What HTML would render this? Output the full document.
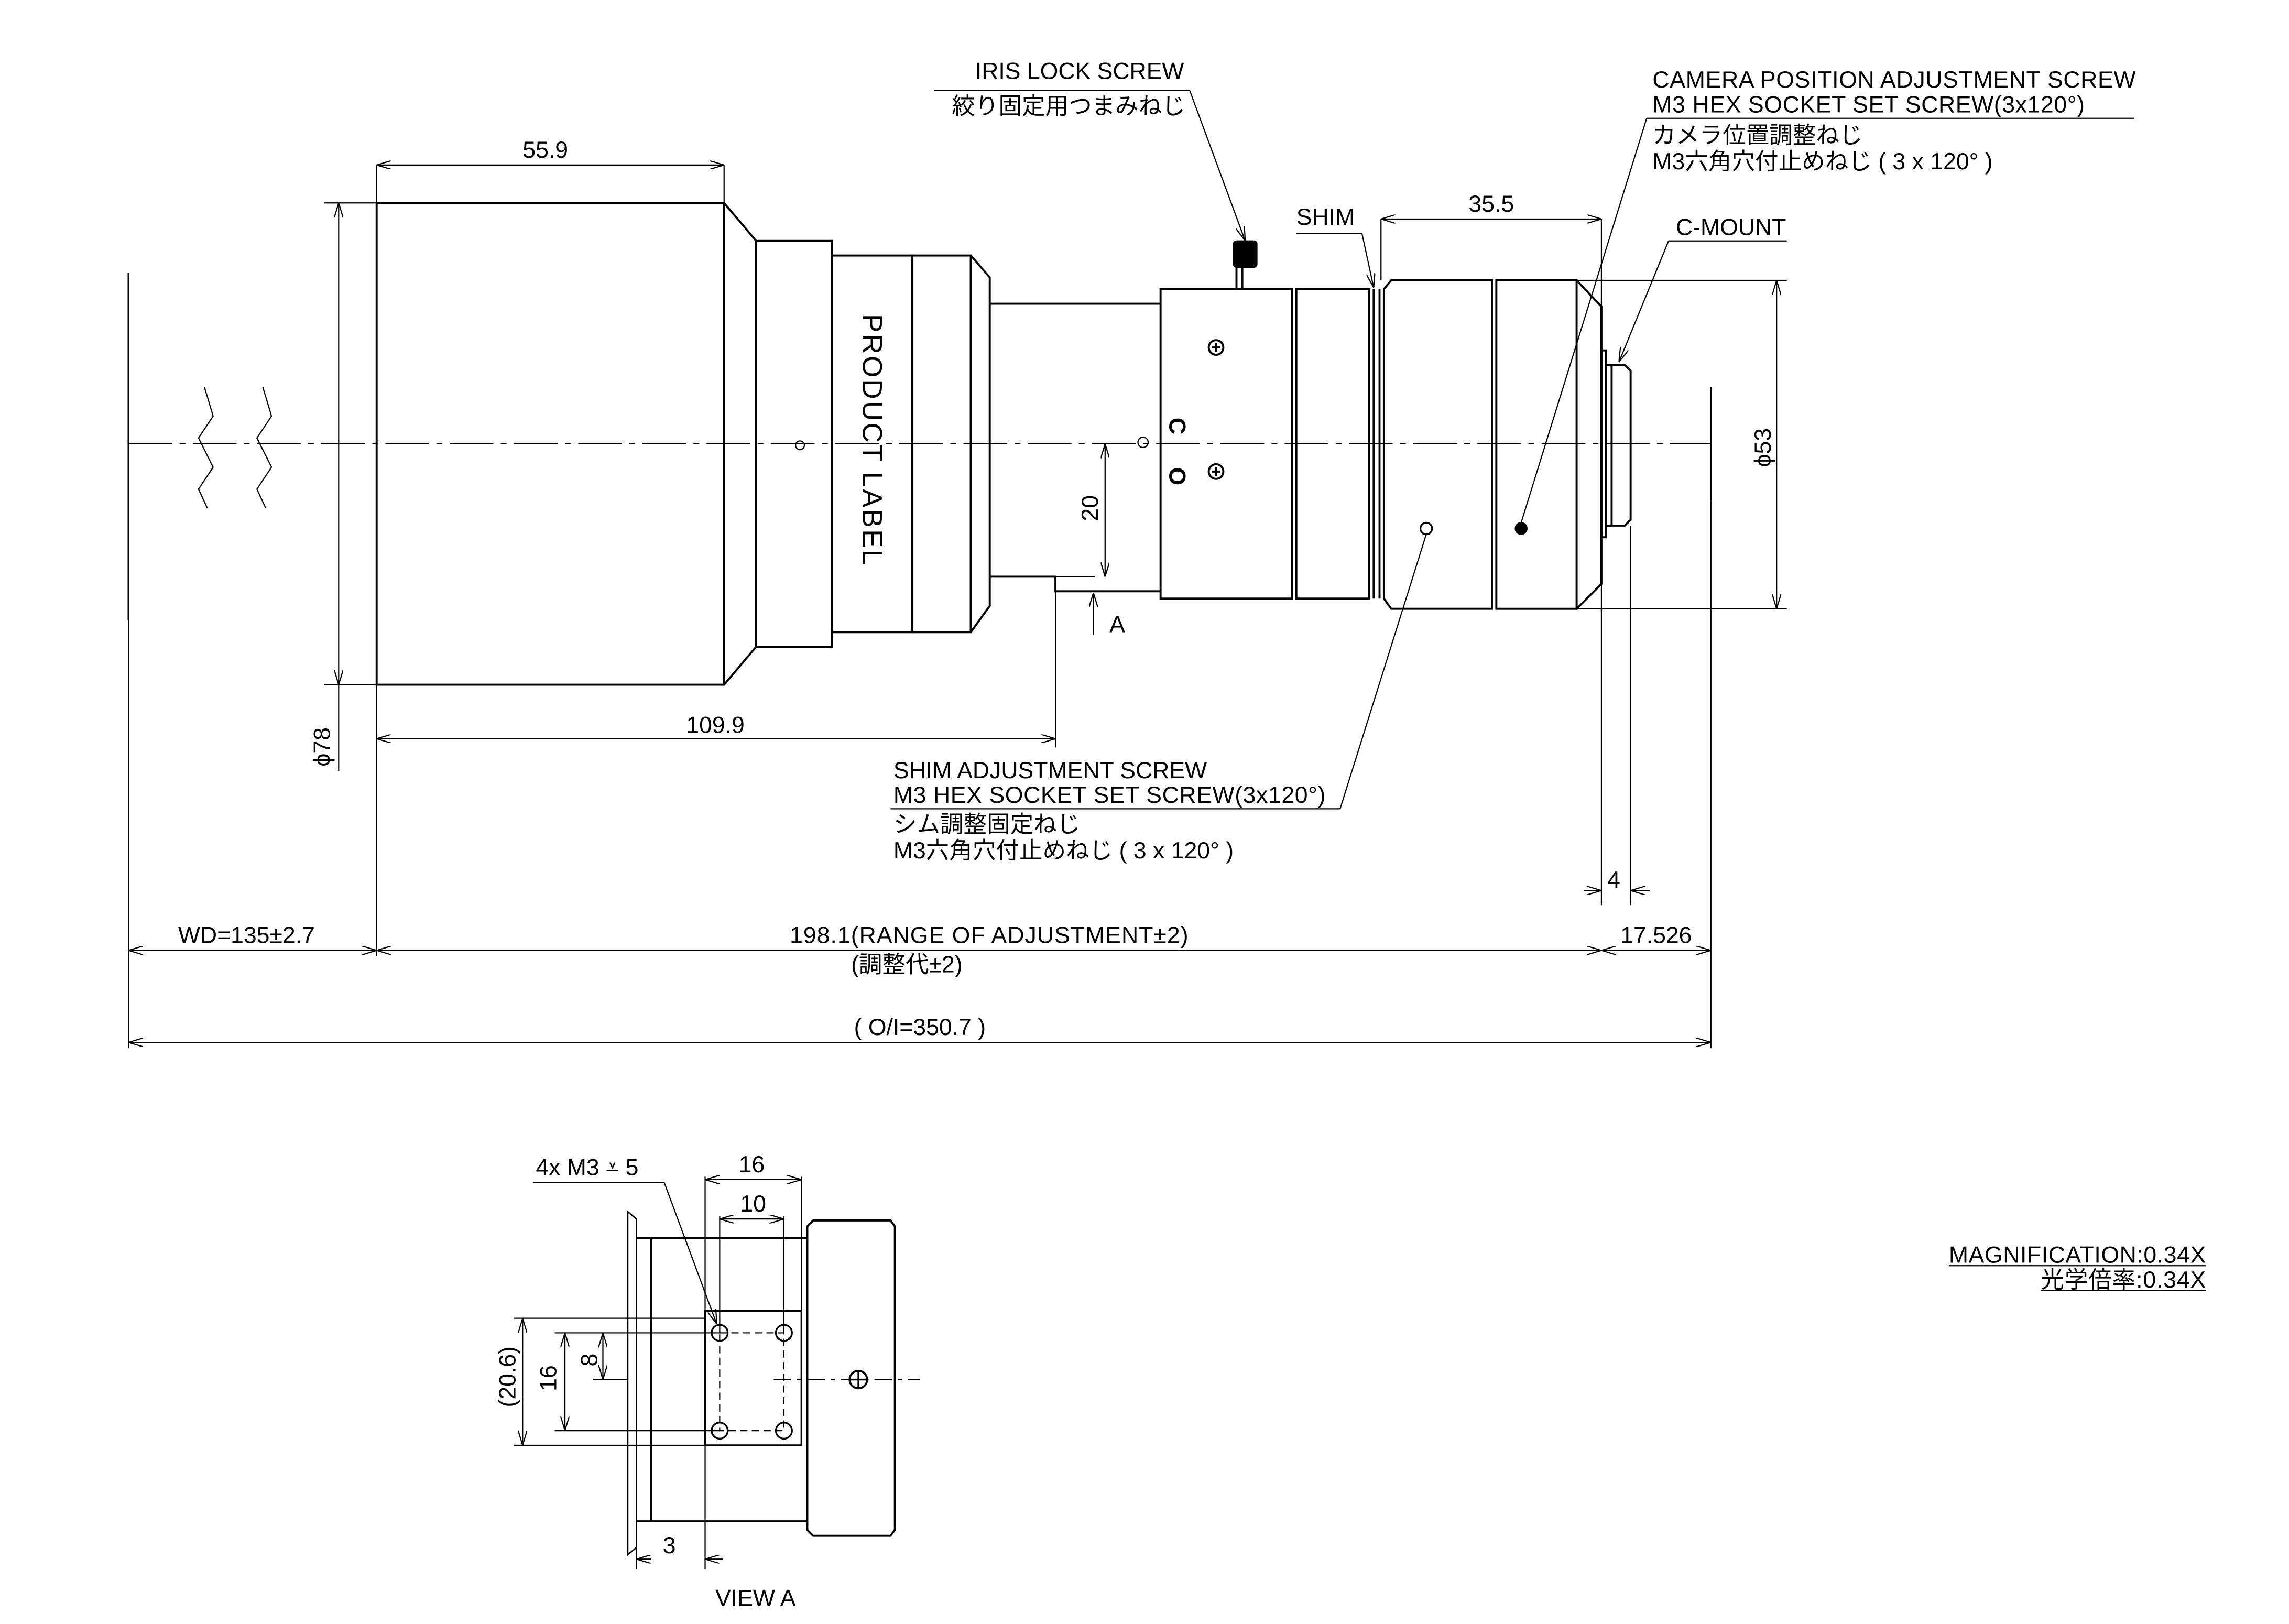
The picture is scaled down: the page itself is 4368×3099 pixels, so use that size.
<!DOCTYPE html>
<html><head><meta charset="utf-8"><style>
html,body{margin:0;padding:0;background:#fff}
svg{display:block}
text{font-family:"Liberation Sans","Noto Sans CJK JP",sans-serif;fill:#000}
</style></head><body>
<svg width="4368" height="3099" viewBox="0 0 1568 1112.4" xmlns="http://www.w3.org/2000/svg">
<defs>
<marker id="a" viewBox="0 0 10 6" refX="10" refY="3" markerWidth="10" markerHeight="6" orient="auto-start-reverse" markerUnits="userSpaceOnUse"><path d="M0,0 L10,3 L0,6" fill="none" stroke="#000" stroke-width="0.8"/></marker>
</defs>
<g fill="none" stroke="#000" stroke-width="0.8">
<line x1="88" y1="187" x2="88" y2="425" stroke-width="1.2"/>
<polyline points="140,265 146,285 136,300 146,320 136,335 142,348"/>
<polyline points="180,265 186,285 176,300 186,320 176,335 182,348"/>
<line x1="88" y1="304" x2="1172" y2="304" stroke-dasharray="30,5,4,5"/>
<line x1="1172" y1="265" x2="1172" y2="343" stroke-width="1.2"/>
<g stroke-width="1.4">
<rect x="258" y="139" width="238" height="330"/>
<polyline points="496,139 518,165 518,443 496,469"/>
<rect x="518" y="165" width="52" height="278"/>
<rect x="570" y="175" width="55" height="258"/>
<rect x="625" y="175" width="40" height="258"/>
<polyline points="665,175 678,190 678,415 665,433"/>
<polyline points="678,208 795,208"/>
<polyline points="678,395 723,395 723,405 795,405"/>
<rect x="795" y="198" width="90" height="212"/>
<rect x="888" y="198" width="50" height="212"/>
<line x1="941" y1="198" x2="941" y2="410"/>
<line x1="945" y1="198" x2="945" y2="410"/>
<polyline points="948,198 953,192 1022,192 1022,417 953,417 948,410 948,198"/>
<rect x="1025" y="192" width="55" height="225"/>
<polyline points="1080,192 1097,210 1097,400 1080,417"/>
<rect x="1097" y="240" width="3" height="128"/>
<polyline points="1100,250 1113,250 1117,254 1117,356 1113,360 1100,360"/>
<line x1="1104" y1="250" x2="1104" y2="360"/>
<rect x="847" y="182" width="4" height="16"/>
</g>
<rect x="845" y="165" width="16" height="18" rx="2" fill="#000"/>
<circle cx="548" cy="305" r="3"/>
<circle cx="783" cy="303" r="3.5"/>
<circle cx="833" cy="238" r="5" stroke-width="1.4"/><path d="M830,238h6M833,235v6" stroke-width="1.4"/>
<circle cx="833" cy="323" r="5" stroke-width="1.4"/><path d="M830,323h6M833,320v6" stroke-width="1.4"/>
<circle cx="977" cy="362" r="4" stroke-width="1.2"/>
<circle cx="1042" cy="362" r="4" fill="#000"/>
<line x1="258" y1="113" x2="258" y2="139"/><line x1="496" y1="113" x2="496" y2="139"/>
<line x1="258" y1="113" x2="496" y2="113" marker-start="url(#a)" marker-end="url(#a)"/>
<line x1="946" y1="150" x2="946" y2="192"/><line x1="1097" y1="150" x2="1097" y2="620"/>
<line x1="946" y1="150" x2="1097" y2="150" marker-start="url(#a)" marker-end="url(#a)"/>
<line x1="222" y1="139" x2="258" y2="139"/><line x1="222" y1="469" x2="258" y2="469"/>
<line x1="232" y1="139" x2="232" y2="469" marker-start="url(#a)" marker-end="url(#a)"/>
<line x1="232" y1="469" x2="232" y2="528"/>
<line x1="1080" y1="192" x2="1224" y2="192"/><line x1="1080" y1="417" x2="1224" y2="417"/>
<line x1="1217" y1="192" x2="1217" y2="417" marker-start="url(#a)" marker-end="url(#a)"/>
<line x1="757" y1="304" x2="757" y2="395" marker-start="url(#a)" marker-end="url(#a)"/>
<line x1="750" y1="395" x2="723" y2="395"/>
<line x1="749" y1="435" x2="749" y2="406" marker-end="url(#a)"/>
<line x1="258" y1="469" x2="258" y2="655"/><line x1="723" y1="405" x2="723" y2="512"/>
<line x1="258" y1="506" x2="723" y2="506" marker-start="url(#a)" marker-end="url(#a)"/>
<line x1="1117" y1="360" x2="1117" y2="620"/>
<line x1="1085" y1="610" x2="1097" y2="610" marker-end="url(#a)"/>
<line x1="1130" y1="610" x2="1117" y2="610" marker-end="url(#a)"/>
<line x1="88" y1="425" x2="88" y2="718"/><line x1="1172" y1="343" x2="1172" y2="718"/>
<line x1="88" y1="651" x2="258" y2="651" marker-start="url(#a)" marker-end="url(#a)"/>
<line x1="258" y1="651" x2="1097" y2="651" marker-start="url(#a)" marker-end="url(#a)"/>
<line x1="1097" y1="651" x2="1172" y2="651" marker-start="url(#a)" marker-end="url(#a)"/>
<line x1="88" y1="714" x2="1172" y2="714" marker-start="url(#a)" marker-end="url(#a)"/>
<line x1="640" y1="62" x2="815" y2="62"/><line x1="815" y1="62" x2="853" y2="165" marker-end="url(#a)"/>
<line x1="888" y1="160" x2="933" y2="160"/><line x1="933" y1="160" x2="941" y2="197" marker-end="url(#a)"/>
<line x1="1128" y1="81" x2="1462" y2="81"/><line x1="1128" y1="81" x2="1042" y2="358"/>
<line x1="1143" y1="165" x2="1224" y2="165"/><line x1="1143" y1="165" x2="1109" y2="248" marker-end="url(#a)"/>
<line x1="610" y1="554" x2="918" y2="554"/><line x1="918" y1="554" x2="977" y2="366"/>
<polygon points="430,830 436,835 436,1060 430,1065" stroke-width="1"/>
<line x1="436" y1="848" x2="553" y2="848" stroke-width="1.2"/>
<line x1="436" y1="1042" x2="553" y2="1042" stroke-width="1.2"/>
<line x1="446" y1="848" x2="446" y2="1042" stroke-width="1.2"/>
<rect x="483" y="898" width="66" height="92" stroke-width="1.2"/>
<rect x="493" y="913" width="44" height="67" stroke-dasharray="5,3"/>
<circle cx="493" cy="913" r="5.5" stroke-width="1.2"/><circle cx="537" cy="913" r="5.5" stroke-width="1.2"/>
<circle cx="493" cy="980" r="5.5" stroke-width="1.2"/><circle cx="537" cy="980" r="5.5" stroke-width="1.2"/>
<polyline points="553,840 557,836 610,836 613,840 613,1048 610,1052 557,1052 553,1048 553,840" stroke-width="1.4"/>
<line x1="530" y1="945" x2="630" y2="945" stroke-dasharray="12,4,3,4"/>
<circle cx="588" cy="945" r="6" stroke-width="1.4"/><path d="M582,945h12M588,939v12" stroke-width="1.2"/>
<line x1="483" y1="806" x2="483" y2="898"/><line x1="549" y1="806" x2="549" y2="898"/>
<line x1="483" y1="808" x2="549" y2="808" marker-start="url(#a)" marker-end="url(#a)"/>
<line x1="493" y1="833" x2="493" y2="913"/><line x1="537" y1="833" x2="537" y2="913"/>
<line x1="493" y1="835" x2="537" y2="835" marker-start="url(#a)" marker-end="url(#a)"/>
<line x1="352" y1="903" x2="483" y2="903"/><line x1="352" y1="990" x2="483" y2="990"/>
<line x1="358" y1="903" x2="358" y2="990" marker-start="url(#a)" marker-end="url(#a)"/>
<line x1="380" y1="913" x2="493" y2="913"/><line x1="380" y1="980" x2="493" y2="980"/>
<line x1="387" y1="913" x2="387" y2="980" marker-start="url(#a)" marker-end="url(#a)"/>
<line x1="413" y1="913" x2="413" y2="945" marker-start="url(#a)" marker-end="url(#a)"/>
<line x1="406" y1="945" x2="430" y2="945"/>
<line x1="436" y1="1042" x2="436" y2="1075"/><line x1="483" y1="990" x2="483" y2="1075"/>
<line x1="446" y1="1068" x2="436" y2="1068" marker-end="url(#a)"/>
<line x1="495" y1="1068" x2="483" y2="1068" marker-end="url(#a)"/>
<line x1="365" y1="810" x2="455" y2="810"/><line x1="455" y1="810" x2="491" y2="907" marker-end="url(#a)"/>
<line x1="1335" y1="867" x2="1511" y2="867"/><line x1="1398" y1="884" x2="1511" y2="884"/>
</g>
<g font-size="16">
<text x="358" y="108">55.9</text>
<text x="1006" y="145">35.5</text>
<text x="470" y="502">109.9</text>
<text x="668" y="54">IRIS LOCK SCREW</text>
<text x="652" y="78">絞り固定用つまみねじ</text>
<text x="888" y="154">SHIM</text>
<text x="1132" y="60" textLength="331">CAMERA POSITION ADJUSTMENT SCREW</text>
<text x="1132" y="77" textLength="296">M3 HEX SOCKET SET SCREW(3x120°)</text>
<text x="1132" y="98">カメラ位置調整ねじ</text>
<text x="1132" y="116">M3六角穴付止めねじ ( 3 x 120° )</text>
<text x="1148" y="161">C-MOUNT</text>
<text x="612" y="533">SHIM ADJUSTMENT SCREW</text>
<text x="612" y="550" textLength="296">M3 HEX SOCKET SET SCREW(3x120°)</text>
<text x="612" y="570">シム調整固定ねじ</text>
<text x="612" y="588">M3六角穴付止めねじ ( 3 x 120° )</text>
<text x="760" y="433">A</text>
<text x="1101" y="608">4</text>
<text x="122" y="646">WD=135±2.7</text>
<text x="541" y="646" textLength="273">198.1(RANGE OF ADJUSTMENT±2)</text>
<text x="583" y="666">(調整代±2)</text>
<text x="1110" y="646">17.526</text>
<text x="585" y="709">( O/I=350.7 )</text>
<text x="1335" y="865" textLength="176">MAGNIFICATION:0.34X</text>
<text x="1398" y="882" textLength="113">光学倍率:0.34X</text>
<text x="367" y="805">4x M3 ⩡ 5</text>
<text x="506" y="803">16</text>
<text x="507" y="830">10</text>
<text x="454" y="1064">3</text>
<text x="490" y="1100">VIEW A</text>
<text transform="translate(226,525) rotate(-90)">ϕ78</text>
<text transform="translate(1213,320) rotate(-90)">ϕ53</text>
<text transform="translate(752,357) rotate(-90)">20</text>
<text transform="translate(353,964) rotate(-90)">(20.6)</text>
<text transform="translate(381,953) rotate(-90)">16</text>
<text transform="translate(409,936) rotate(-90)">8</text>
</g>
<text transform="translate(591,215) rotate(90)" font-size="19" textLength="172">PRODUCT LABEL</text>
<text transform="translate(801,286) rotate(90)" font-size="16" font-weight="bold">C</text>
<text transform="translate(801,320) rotate(90)" font-size="16" font-weight="bold">O</text>
</svg>
</body></html>
